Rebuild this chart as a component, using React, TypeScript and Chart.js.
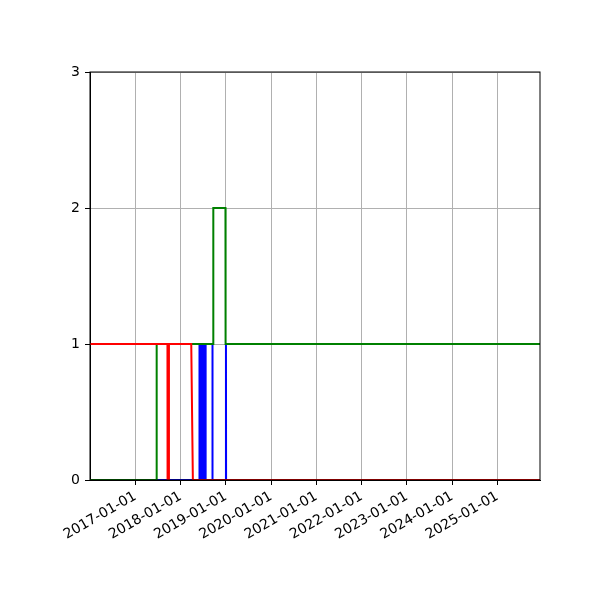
import { useEffect, useRef } from "react";
import { Chart, ChartConfiguration, registerables } from "chart.js";

Chart.register(...registerables);

const xStart = "2016-01-01";
const xEnd = "2025-12-10";
const tickDates = [
    "2017-01-01", "2018-01-01", "2019-01-01", "2020-01-01", "2021-01-01",
    "2022-01-01", "2023-01-01", "2024-01-01", "2025-01-01",
];
const yTicks = [0, 1, 2, 3];

const redDates = ["2016-01-01", "2017-09-17", "2017-09-18", "2017-09-28", "2017-09-29", "2018-03-28", "2018-04-10", "2025-12-10"];
const redValues = [1, 1, 0, 0, 1, 1, 0, 0];

const greenDates = ["2016-01-01", "2017-06-21", "2017-06-22", "2018-09-21", "2018-09-22", "2018-12-29", "2018-12-30", "2025-12-10"];
const greenValues = [0, 0, 1, 1, 2, 2, 1, 1];

const blueDates = [
    "2016-01-01", "2018-05-30", "2018-06-01", "2018-06-04", "2018-06-07", "2018-06-10",
    "2018-06-13", "2018-06-16", "2018-06-19", "2018-06-22", "2018-06-25", "2018-06-28",
    "2018-07-01", "2018-07-04", "2018-07-07", "2018-07-10", "2018-07-13", "2018-07-16",
    "2018-07-19", "2018-07-22", "2018-09-14", "2018-09-15", "2018-09-16", "2019-01-01",
    "2019-01-02", "2019-01-03", "2025-12-10",
];
const blueValues = [
    0, 0, 1, 0, 1, 0,
    1, 0, 1, 0, 1, 0,
    1, 0, 1, 0, 1, 0,
    1, 0, 0, 1, 0, 0,
    1, 0, 0,
];

const toPoints = (dates: string[], values: number[]) =>
    dates.map((d, i) => ({ x: Date.parse(d), y: values[i] }));

const FONT = { family: "'DejaVu Sans', sans-serif", size: 14 };

const framePlugin = {
    id: "frame",
    afterDatasetsDraw(chart: Chart) {
        const { ctx, chartArea } = chart;
        ctx.save();
        ctx.strokeStyle = "#000";
        ctx.lineWidth = 1;
        ctx.strokeRect(chartArea.left, chartArea.top, chartArea.right - chartArea.left, chartArea.bottom - chartArea.top);
        ctx.restore();
    },
};

export default function App() {
    const chartRef = useRef<HTMLCanvasElement | null>(null);
    const chartInstance = useRef<Chart<"line"> | null>(null);

    useEffect(() => {
        if (!chartRef.current) return;
        const ctx = chartRef.current.getContext("2d");
        if (!ctx) return;
        if (chartInstance.current) chartInstance.current.destroy();

        const config: ChartConfiguration<"line"> = {
            type: "line",
            data: {
                datasets: [
                    { data: toPoints(redDates, redValues), borderColor: "#ff0000", borderWidth: 2, pointRadius: 0, tension: 0, order: 1 },
                    { data: toPoints(greenDates, greenValues), borderColor: "#008000", borderWidth: 2, pointRadius: 0, tension: 0, order: 2 },
                    { data: toPoints(blueDates, blueValues), borderColor: "#0000ff", borderWidth: 2, pointRadius: 0, tension: 0, order: 3 },
                ],
            },
            options: {
                animation: false,
                responsive: true,
                maintainAspectRatio: false,
                layout: { padding: { left: 0, top: 72, right: 60, bottom: 0 } },
                plugins: { legend: { display: false }, tooltip: { enabled: false } },
                scales: {
                    x: {
                        type: "linear",
                        min: Date.parse(xStart),
                        max: Date.parse(xEnd),
                        afterBuildTicks: (scale) => {
                            scale.ticks = tickDates.map(d => ({ value: Date.parse(d) }));
                        },
                        afterFit: (scale) => { scale.height = 120; },
                        grid: { color: "#b0b0b0", lineWidth: 1, tickColor: "#000", tickLength: 5, tickWidth: 1 },
                        border: { color: "#000" },
                        ticks: {
                            autoSkip: false,
                            maxRotation: 30,
                            minRotation: 30,
                            padding: 3,
                            color: "#000",
                            font: FONT,
                            callback: (v) => new Date(Number(v)).toISOString().slice(0, 10),
                        },
                    },
                    y: {
                        min: 0,
                        max: 3,
                        afterBuildTicks: (scale) => {
                            scale.ticks = yTicks.map(v => ({ value: v }));
                        },
                        afterFit: (scale) => { scale.width = 90; },
                        grid: { color: "#b0b0b0", lineWidth: 1, tickColor: "#000", tickLength: 5, tickWidth: 1 },
                        border: { color: "#000" },
                        ticks: { padding: 5, color: "#000", font: FONT },
                    },
                },
            },
            plugins: [framePlugin],
        };

        chartInstance.current = new Chart(ctx, config);

        return () => {
            if (chartInstance.current) {
                chartInstance.current.destroy();
                chartInstance.current = null;
            }
        };
    }, []);

    return (
        <div style={{ position: "absolute", left: 0, top: 0, width: 600, height: 600, background: "#fff" }}>
            <canvas ref={chartRef}></canvas>
        </div>
    );
}
